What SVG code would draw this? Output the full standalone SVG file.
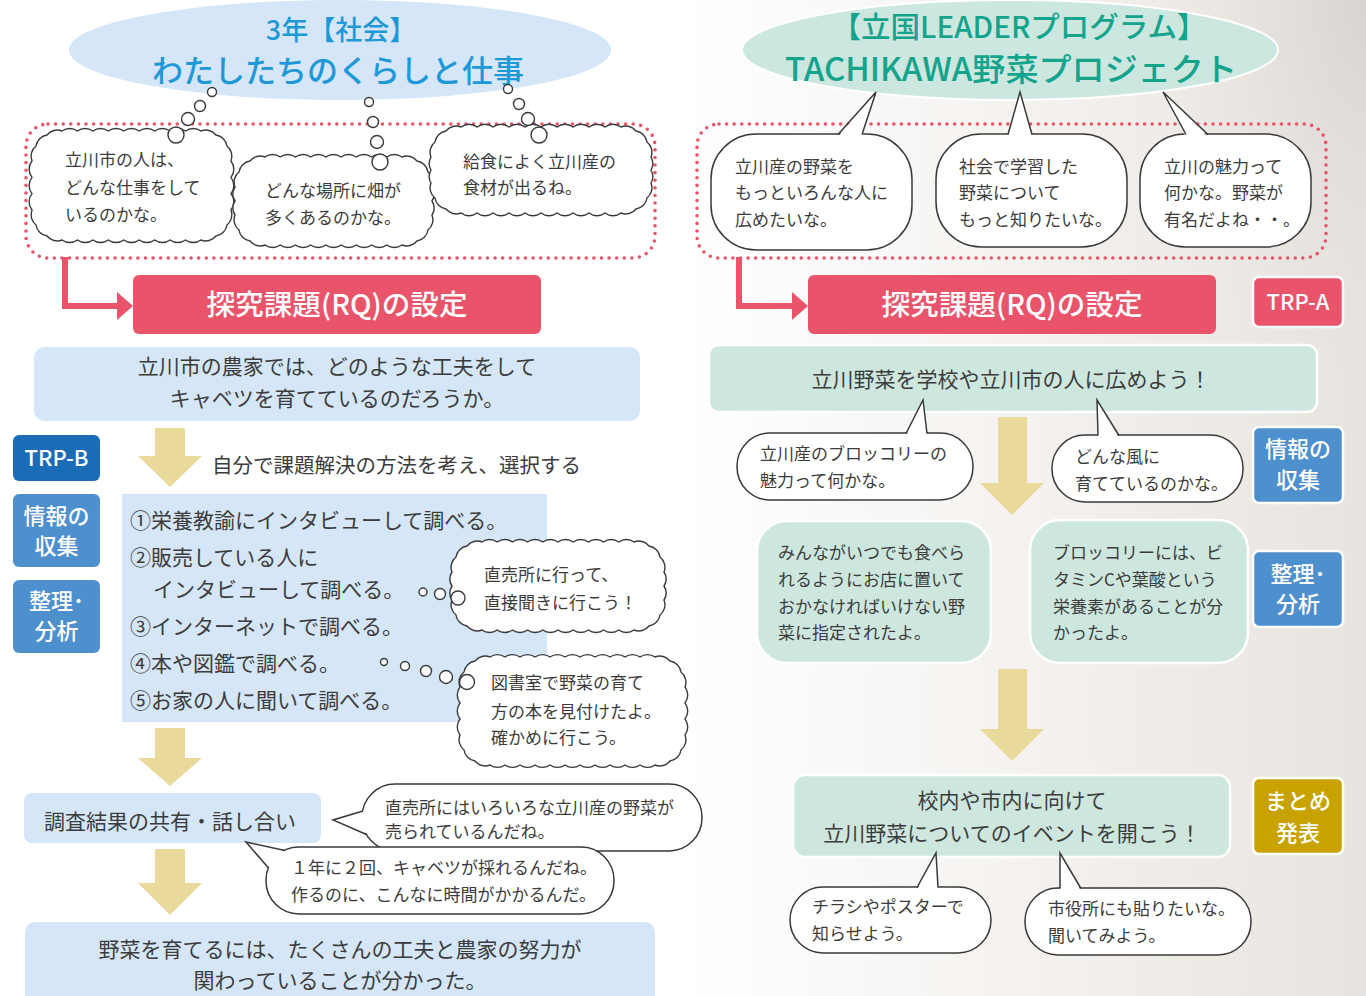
<svg xmlns="http://www.w3.org/2000/svg" width="1366" height="996" viewBox="0 0 1366 996">
<defs>
<linearGradient id="bg" x1="0" y1="0" x2="1" y2="0">
<stop offset="0" stop-color="#ffffff"/>
<stop offset="0.35" stop-color="#f8f6f4"/>
<stop offset="1" stop-color="#e8e3de"/>
</linearGradient>
<radialGradient id="corner" cx="1" cy="0" r="1">
<stop offset="0" stop-color="#d6d3ce" stop-opacity="0.9"/>
<stop offset="1" stop-color="#e8e4df" stop-opacity="0"/>
</radialGradient>
<style>
.t{font-family:"Noto Sans CJK JP","Noto Sans",sans-serif;fill:#3c3c3c}
.s17{font-size:17px}
.s21{font-size:21px}
.mid{text-anchor:middle}
.lbl{font-family:"Noto Sans CJK JP","Noto Sans",sans-serif;font-size:22px;fill:#fff;font-weight:500;text-anchor:middle}
.rq{font-family:"Noto Sans CJK JP","Noto Sans",sans-serif;font-size:28px;fill:#fff;font-weight:500;text-anchor:middle}
.cloud{fill:#fff;stroke:#3a3a3a;stroke-width:1.4}
.bub{fill:#fff;stroke:#3a3a3a;stroke-width:1.5}
.tf{fill:#fff}
.tl{fill:none;stroke:#3a3a3a;stroke-width:1.5}
.dotted{fill:none;stroke:#e9546b;stroke-width:3.6;stroke-dasharray:0 7.6;stroke-linecap:round}
.blue{fill:#d4e6f7}
.teal{fill:#cde7df;stroke:#fff;stroke-width:2.5}
.pink{fill:#e9546b}
.ya{fill:#e9d99b}
.pk{fill:none;stroke:#e9546b;stroke-width:6}
</style>
</defs>
<rect x="0" y="0" width="1366" height="996" fill="#fff"/>
<rect x="680" y="0" width="686" height="996" fill="url(#bg)"/>
<rect x="1150" y="0" width="216" height="420" fill="url(#corner)"/>

<g id="title-left">
<ellipse cx="340" cy="50" rx="271" ry="50" fill="#d4e6f7"/>
<text class="mid" x="341" y="40" font-family="Noto Sans CJK JP, sans-serif" font-size="27" font-weight="500" fill="#1f98d8">3年【社会】</text>
<text class="mid" x="338" y="82" font-family="Noto Sans CJK JP, sans-serif" font-size="31" font-weight="500" fill="#1f98d8">わたしたちのくらしと仕事</text>
</g>

<g id="group-left-thoughts">
<rect class="dotted" x="26" y="124" width="629" height="134" rx="22"/>
</g>

<g id="cloud1">
<path class="cloud" d="M62,131 a13 13 0 0 1 15.44 0 a13 13 0 0 1 15.44 0 a13 13 0 0 1 15.44 0 a13 13 0 0 1 15.44 0 a13 13 0 0 1 15.44 0 a13 13 0 0 1 15.44 0 a13 13 0 0 1 15.44 0 a13 13 0 0 1 15.44 0 a13 13 0 0 1 15.44 0 a13 13 0 0 1 15 4 a13 13 0 0 1 11 11 a13 13 0 0 1 4 15 a13 13 0 0 1 0 16.33 a13 13 0 0 1 0 16.33 a13 13 0 0 1 0 16.33 a13 13 0 0 1 -4 15 a13 13 0 0 1 -11 11 a13 13 0 0 1 -15 4 a13 13 0 0 1 -15.44 0 a13 13 0 0 1 -15.44 0 a13 13 0 0 1 -15.44 0 a13 13 0 0 1 -15.44 0 a13 13 0 0 1 -15.44 0 a13 13 0 0 1 -15.44 0 a13 13 0 0 1 -15.44 0 a13 13 0 0 1 -15.44 0 a13 13 0 0 1 -15.44 0 a13 13 0 0 1 -15 -4 a13 13 0 0 1 -11 -11 a13 13 0 0 1 -4 -15 a13 13 0 0 1 0 -16.33 a13 13 0 0 1 0 -16.33 a13 13 0 0 1 0 -16.33 a13 13 0 0 1 4 -15 a13 13 0 0 1 11 -11 a13 13 0 0 1 15 -4 Z"/>
<text class="t s17" x="65" y="166">立川市の人は、</text>
<text class="t s17" x="65" y="194">どんな仕事をして</text>
<text class="t s17" x="65" y="221">いるのかな。</text>
</g>

<g id="cloud2">
<path class="cloud" d="M265,157 a13 13 0 0 1 15.22 0 a13 13 0 0 1 15.22 0 a13 13 0 0 1 15.22 0 a13 13 0 0 1 15.22 0 a13 13 0 0 1 15.22 0 a13 13 0 0 1 15.22 0 a13 13 0 0 1 15.22 0 a13 13 0 0 1 15.22 0 a13 13 0 0 1 15.22 0 a13 13 0 0 1 15 4 a13 13 0 0 1 11 11 a13 13 0 0 1 4 15 a13 13 0 0 1 0 14 a13 13 0 0 1 0 14 a13 13 0 0 1 -4 15 a13 13 0 0 1 -11 11 a13 13 0 0 1 -15 4 a13 13 0 0 1 -15.22 0 a13 13 0 0 1 -15.22 0 a13 13 0 0 1 -15.22 0 a13 13 0 0 1 -15.22 0 a13 13 0 0 1 -15.22 0 a13 13 0 0 1 -15.22 0 a13 13 0 0 1 -15.22 0 a13 13 0 0 1 -15.22 0 a13 13 0 0 1 -15.22 0 a13 13 0 0 1 -15 -4 a13 13 0 0 1 -11 -11 a13 13 0 0 1 -4 -15 a13 13 0 0 1 0 -14 a13 13 0 0 1 0 -14 a13 13 0 0 1 4 -15 a13 13 0 0 1 11 -11 a13 13 0 0 1 15 -4 Z"/>
<text class="t s17" x="265" y="197">どんな場所に畑が</text>
<text class="t s17" x="265" y="224">多くあるのかな。</text>
</g>

<g id="cloud3">
<path class="cloud" d="M461,127 a13 13 0 0 1 16 0 a13 13 0 0 1 16 0 a13 13 0 0 1 16 0 a13 13 0 0 1 16 0 a13 13 0 0 1 16 0 a13 13 0 0 1 16 0 a13 13 0 0 1 16 0 a13 13 0 0 1 16 0 a13 13 0 0 1 16 0 a13 13 0 0 1 16 0 a13 13 0 0 1 15 4 a13 13 0 0 1 11 11 a13 13 0 0 1 4 15 a13 13 0 0 1 0 13 a13 13 0 0 1 0 13 a13 13 0 0 1 -4 15 a13 13 0 0 1 -11 11 a13 13 0 0 1 -15 4 a13 13 0 0 1 -16 0 a13 13 0 0 1 -16 0 a13 13 0 0 1 -16 0 a13 13 0 0 1 -16 0 a13 13 0 0 1 -16 0 a13 13 0 0 1 -16 0 a13 13 0 0 1 -16 0 a13 13 0 0 1 -16 0 a13 13 0 0 1 -16 0 a13 13 0 0 1 -16 0 a13 13 0 0 1 -15 -4 a13 13 0 0 1 -11 -11 a13 13 0 0 1 -4 -15 a13 13 0 0 1 0 -13 a13 13 0 0 1 0 -13 a13 13 0 0 1 4 -15 a13 13 0 0 1 11 -11 a13 13 0 0 1 15 -4 Z"/>
<text class="t s17" x="463" y="168">給食によく立川産の</text>
<text class="t s17" x="463" y="194">食材が出るね。</text>
</g>

<g id="title-right">
<ellipse cx="1010" cy="50" rx="268" ry="50" fill="#cbe7df" stroke="#fff" stroke-width="2"/>
<text class="mid" x="1019" y="38" font-family="Noto Sans CJK JP, sans-serif" font-size="29" font-weight="500" fill="#14a48b" textLength="375" lengthAdjust="spacingAndGlyphs">【立国LEADERプログラム】</text>
<text class="mid" x="1011" y="81" font-family="Noto Sans CJK JP, sans-serif" font-size="32" font-weight="500" fill="#14a48b" textLength="452" lengthAdjust="spacingAndGlyphs">TACHIKAWA野菜プロジェクト</text>
</g>

<g id="group-right-voices">
<rect class="dotted" x="697" y="124" width="629" height="134" rx="22"/>
</g>

<g id="voice1">
<rect class="bub" x="711" y="134" width="201" height="116" rx="45"/>
<polygon class="tf" points="838,137 876,92 862,137"/>
<polyline class="tl" points="838,134.5 876,92 862,134.5"/>
<text class="t s17" x="735" y="173">立川産の野菜を</text>
<text class="t s17" x="735" y="199">もっといろんな人に</text>
<text class="t s17" x="735" y="226">広めたいな。</text>
</g>
<g id="voice2">
<rect class="bub" x="936" y="134" width="191" height="113" rx="45"/>
<polygon class="tf" points="1008,137 1020,92 1032,137"/>
<polyline class="tl" points="1008,134.5 1020,92 1032,134.5"/>
<text class="t s17" x="959" y="173">社会で学習した</text>
<text class="t s17" x="959" y="199">野菜について</text>
<text class="t s17" x="959" y="226">もっと知りたいな。</text>
</g>
<g id="voice3">
<rect class="bub" x="1140" y="134" width="171" height="113" rx="45"/>
<polygon class="tf" points="1186,137 1163,92 1208,137"/>
<polyline class="tl" points="1186,134.5 1163,92 1208,134.5"/>
<text class="t s17" x="1164" y="173">立川の魅力って</text>
<text class="t s17" x="1164" y="199">何かな。野菜が</text>
<text class="t s17" x="1164" y="226">有名だよね・・。</text>
</g>

<g id="connectors">
<path class="pk" d="M65,257 V306 H119"/>
<polygon class="pink" points="117,292 133,306 117,320"/>
<path class="pk" d="M739,257 V306 H794"/>
<polygon class="pink" points="792,292 808,306 792,320"/>
<polygon class="ya" points="155,428 185,428 185,456 202,456 170,487 138,456 155,456"/>
<polygon class="ya" points="155,728 185,728 185,758 202,758 170,786 138,758 155,758"/>
<polygon class="ya" points="155,849 185,849 185,883 202,883 170,915 138,883 155,883"/>
<polygon class="ya" points="998,417 1027,417 1027,483 1044,483 1012,515 980,483 998,483"/>
<polygon class="ya" points="998,669 1027,669 1027,729 1044,729 1012,761 980,729 998,729"/>
<g class="cloud">
<circle cx="212" cy="92" r="4.5"/>
<circle cx="200" cy="106" r="5.5"/>
<circle cx="188" cy="119" r="6.5"/>
<circle cx="176" cy="135" r="8"/>
<circle cx="369" cy="102" r="4.5"/>
<circle cx="373" cy="122" r="5.5"/>
<circle cx="377" cy="142" r="6.5"/>
<circle cx="380" cy="162" r="8"/>
<circle cx="508" cy="89" r="4.5"/>
<circle cx="519" cy="104" r="5.5"/>
<circle cx="528" cy="119" r="6.5"/>
<circle cx="539" cy="135" r="8"/>
</g>
</g>

<g id="rq-left">
<rect class="pink" x="133" y="275" width="408" height="59" rx="6"/>
<text class="rq" x="337" y="315" textLength="261" lengthAdjust="spacingAndGlyphs">探究課題(RQ)の設定</text>
</g>
<g id="question-left">
<rect class="blue" x="34" y="347" width="606" height="74" rx="10"/>
<text class="t s21 mid" x="337" y="374">立川市の農家では、どのような工夫をして</text>
<text class="t s21 mid" x="337" y="406">キャベツを育てているのだろうか。</text>
</g>
<g id="trp-b">
<rect x="13" y="435" width="87" height="46" rx="6" fill="#1a6cb6"/>
<text class="lbl" x="56.5" y="466" font-weight="700">TRP-B</text>
</g>
<g id="collect-left">
<rect x="13" y="494" width="87" height="73" rx="6" fill="#4e8fcd"/>
<text class="lbl" x="56.5" y="524">情報の</text>
<text class="lbl" x="56.5" y="554">収集</text>
</g>
<g id="analyze-left">
<rect x="13" y="580" width="87" height="73" rx="6" fill="#4e8fcd"/>
<text class="lbl" x="56.5" y="609">整理･</text>
<text class="lbl" x="56.5" y="639">分析</text>
</g>
<g id="choose-label">
<text class="t" x="212" y="473" font-size="20.5">自分で課題解決の方法を考え、選択する</text>
</g>
<g id="methods">
<rect class="blue" x="122" y="494" width="425" height="228"/>
<text class="t s21" x="130" y="528">①栄養教諭にインタビューして調べる。</text>
<text class="t s21" x="130" y="565">②販売している人に</text>
<text class="t s21" x="153" y="597">インタビューして調べる。</text>
<text class="t s21" x="130" y="634">③インターネットで調べる。</text>
<text class="t s21" x="130" y="671">④本や図鑑で調べる。</text>
<text class="t s21" x="130" y="708">⑤お家の人に聞いて調べる。</text>
</g>

<g id="cloud4">
<path class="cloud" d="M482,542 a13 13 0 0 1 15.2 0 a13 13 0 0 1 15.2 0 a13 13 0 0 1 15.2 0 a13 13 0 0 1 15.2 0 a13 13 0 0 1 15.2 0 a13 13 0 0 1 15.2 0 a13 13 0 0 1 15.2 0 a13 13 0 0 1 15.2 0 a13 13 0 0 1 15.2 0 a13 13 0 0 1 15.2 0 a13 13 0 0 1 15 4 a13 13 0 0 1 11 11 a13 13 0 0 1 4 15 a13 13 0 0 1 0 14 a13 13 0 0 1 0 14 a13 13 0 0 1 -4 15 a13 13 0 0 1 -11 11 a13 13 0 0 1 -15 4 a13 13 0 0 1 -15.2 0 a13 13 0 0 1 -15.2 0 a13 13 0 0 1 -15.2 0 a13 13 0 0 1 -15.2 0 a13 13 0 0 1 -15.2 0 a13 13 0 0 1 -15.2 0 a13 13 0 0 1 -15.2 0 a13 13 0 0 1 -15.2 0 a13 13 0 0 1 -15.2 0 a13 13 0 0 1 -15.2 0 a13 13 0 0 1 -15 -4 a13 13 0 0 1 -11 -11 a13 13 0 0 1 -4 -15 a13 13 0 0 1 0 -14 a13 13 0 0 1 0 -14 a13 13 0 0 1 4 -15 a13 13 0 0 1 11 -11 a13 13 0 0 1 15 -4 Z"/>
<text class="t s17" x="484" y="581">直売所に行って、</text>
<text class="t s17" x="484" y="609">直接聞きに行こう！</text>
<g class="cloud">
<circle cx="423" cy="592" r="4"/>
<circle cx="440" cy="594" r="5.5"/>
<circle cx="458" cy="598" r="7"/>
</g>
</g>

<g id="cloud5">
<path class="cloud" d="M490,657 a13 13 0 0 1 15 0 a13 13 0 0 1 15 0 a13 13 0 0 1 15 0 a13 13 0 0 1 15 0 a13 13 0 0 1 15 0 a13 13 0 0 1 15 0 a13 13 0 0 1 15 0 a13 13 0 0 1 15 0 a13 13 0 0 1 15 0 a13 13 0 0 1 15 0 a13 13 0 0 1 15 0 a13 13 0 0 1 15 4 a13 13 0 0 1 11 11 a13 13 0 0 1 4 15 a13 13 0 0 1 0 16 a13 13 0 0 1 0 16 a13 13 0 0 1 0 16 a13 13 0 0 1 -4 15 a13 13 0 0 1 -11 11 a13 13 0 0 1 -15 4 a13 13 0 0 1 -15 0 a13 13 0 0 1 -15 0 a13 13 0 0 1 -15 0 a13 13 0 0 1 -15 0 a13 13 0 0 1 -15 0 a13 13 0 0 1 -15 0 a13 13 0 0 1 -15 0 a13 13 0 0 1 -15 0 a13 13 0 0 1 -15 0 a13 13 0 0 1 -15 0 a13 13 0 0 1 -15 0 a13 13 0 0 1 -15 -4 a13 13 0 0 1 -11 -11 a13 13 0 0 1 -4 -15 a13 13 0 0 1 0 -16 a13 13 0 0 1 0 -16 a13 13 0 0 1 0 -16 a13 13 0 0 1 4 -15 a13 13 0 0 1 11 -11 a13 13 0 0 1 15 -4 Z"/>
<text class="t s17" x="491" y="689">図書室で野菜の育て</text>
<text class="t s17" x="491" y="718">方の本を見付けたよ。</text>
<text class="t s17" x="491" y="744">確かめに行こう。</text>
<g class="cloud">
<circle cx="384" cy="662" r="3.5"/>
<circle cx="405" cy="666" r="4.5"/>
<circle cx="426" cy="671" r="5.5"/>
<circle cx="446" cy="677" r="6.5"/>
<circle cx="467" cy="682" r="7.5"/>
</g>
</g>

<g id="share">
<rect class="blue" x="24" y="793" width="297" height="50" rx="8"/>
<text class="t s21" x="44" y="829">調査結果の共有・話し合い</text>
</g>
<g id="voice6">
<rect class="bub" x="362" y="784" width="340" height="67" rx="33"/>
<polygon class="tf" points="366,810 333,820 368,834"/>
<polyline class="tl" points="363,811 333,820 366.5,834.5"/>
<text class="t s17" x="385" y="814">直売所にはいろいろな立川産の野菜が</text>
<text class="t s17" x="385" y="838">売られているんだね。</text>
</g>
<g id="voice7">
<rect class="bub" x="266" y="847" width="348" height="67" rx="33"/>
<polygon class="tf" points="287,852 246,842 270,868"/>
<polyline class="tl" points="285,850.5 246,842 268.5,868"/>
<text class="t s17" x="291" y="874">１年に２回、キャベツが採れるんだね。</text>
<text class="t s17" x="291" y="901">作るのに、こんなに時間がかかるんだ。</text>
</g>
<g id="conclusion-left">
<rect class="blue" x="25" y="922" width="630" height="90" rx="10"/>
<text class="t s21 mid" x="340" y="957">野菜を育てるには、たくさんの工夫と農家の努力が</text>
<text class="t s21 mid" x="340" y="988">関わっていることが分かった。</text>
</g>

<g id="rq-right">
<rect class="pink" x="808" y="275" width="408" height="59" rx="6"/>
<text class="rq" x="1012" y="315" textLength="261" lengthAdjust="spacingAndGlyphs">探究課題(RQ)の設定</text>
</g>
<g id="trp-a">
<rect x="1253" y="277" width="90" height="50" rx="6" fill="#e9546b" stroke="#fff" stroke-width="2.5"/>
<text class="lbl" x="1298" y="310" font-weight="700">TRP-A</text>
</g>
<g id="goal-right">
<rect class="teal" x="709" y="345" width="608" height="67" rx="10"/>
<text class="t s21 mid" x="1011" y="387">立川野菜を学校や立川市の人に広めよう！</text>
</g>
<g id="voiceA">
<rect class="bub" x="737" y="433" width="236" height="67" rx="33"/>
<polygon class="tf" points="906,436 923,400 927,436"/>
<polyline class="tl" points="906,433.5 923,400 927,433.5"/>
<text class="t s17" x="760" y="460">立川産のブロッコリーの</text>
<text class="t s17" x="760" y="487">魅力って何かな。</text>
</g>
<g id="voiceB">
<rect class="bub" x="1052" y="435" width="191" height="67" rx="33"/>
<polygon class="tf" points="1098,438 1097,400 1119,438"/>
<polyline class="tl" points="1098,435.5 1097,400 1119,435.5"/>
<text class="t s17" x="1075" y="463">どんな風に</text>
<text class="t s17" x="1075" y="490">育てているのかな。</text>
</g>
<g id="collect-right">
<rect x="1253" y="427" width="90" height="76" rx="6" fill="#4e8fcd" stroke="#fff" stroke-width="2.5"/>
<text class="lbl" x="1298" y="457">情報の</text>
<text class="lbl" x="1298" y="488">収集</text>
</g>
<g id="finding1">
<rect class="teal" x="757" y="521" width="234" height="142" rx="30"/>
<text class="t s17" x="778" y="559">みんながいつでも食べら</text>
<text class="t s17" x="778" y="586">れるようにお店に置いて</text>
<text class="t s17" x="778" y="613">おかなければいけない野</text>
<text class="t s17" x="778" y="639">菜に指定されたよ。</text>
</g>
<g id="finding2">
<rect class="teal" x="1030" y="520" width="218" height="143" rx="30"/>
<text class="t s17" x="1053" y="559">ブロッコリーには、ビ</text>
<text class="t s17" x="1053" y="586">タミンCや葉酸という</text>
<text class="t s17" x="1053" y="613">栄養素があることが分</text>
<text class="t s17" x="1053" y="639">かったよ。</text>
</g>
<g id="analyze-right">
<rect x="1253" y="551" width="90" height="76" rx="6" fill="#4e8fcd" stroke="#fff" stroke-width="2.5"/>
<text class="lbl" x="1298" y="582">整理･</text>
<text class="lbl" x="1298" y="612">分析</text>
</g>
<g id="event">
<rect class="teal" x="793" y="775" width="437" height="82" rx="12"/>
<text class="t s21 mid" x="1012" y="808">校内や市内に向けて</text>
<text class="t s21 mid" x="1012" y="841">立川野菜についてのイベントを開こう！</text>
</g>
<g id="summary">
<rect x="1253" y="778" width="90" height="76" rx="6" fill="#c8a300" stroke="#fff" stroke-width="2.5"/>
<text class="lbl" x="1298" y="809">まとめ</text>
<text class="lbl" x="1298" y="841">発表</text>
</g>
<g id="voiceC">
<rect class="bub" x="790" y="887" width="201" height="66" rx="33"/>
<polygon class="tf" points="917,890 936,853 938,890"/>
<polyline class="tl" points="917,887.5 936,853 938,887.5"/>
<text class="t s17" x="812" y="913">チラシやポスターで</text>
<text class="t s17" x="812" y="940">知らせよう。</text>
</g>
<g id="voiceD">
<rect class="bub" x="1025" y="888" width="226" height="67" rx="33"/>
<polygon class="tf" points="1060,891 1060,853 1081,891"/>
<polyline class="tl" points="1060,888.5 1060,853 1081,888.5"/>
<text class="t s17" x="1048" y="915">市役所にも貼りたいな。</text>
<text class="t s17" x="1048" y="942">聞いてみよう。</text>
</g>
</svg>
